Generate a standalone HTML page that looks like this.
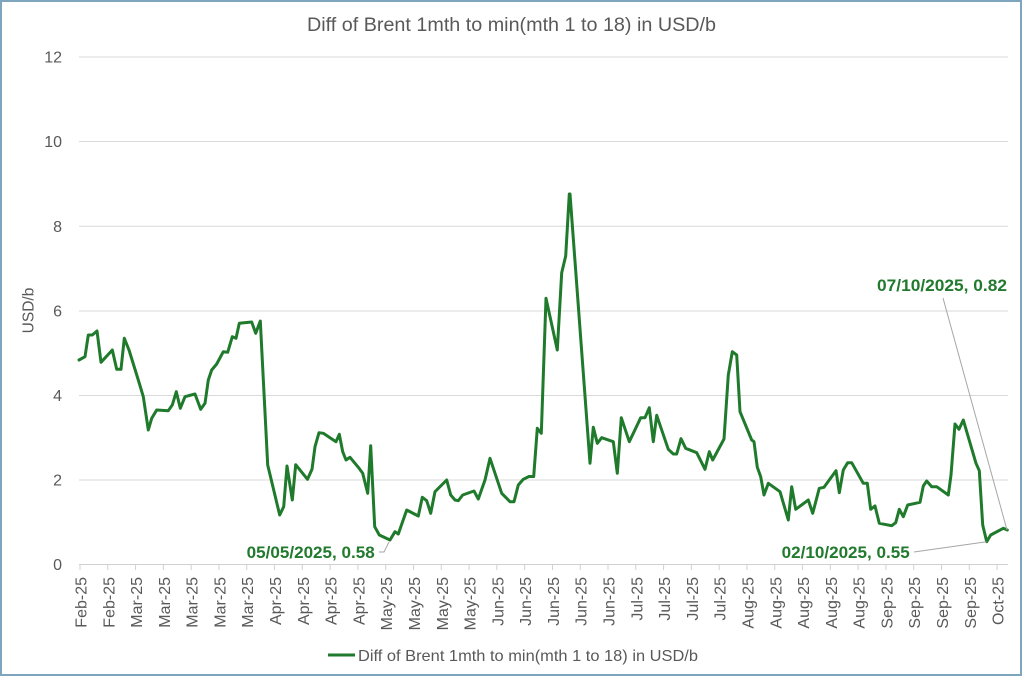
<!DOCTYPE html>
<html>
<head>
<meta charset="utf-8">
<style>
html,body{margin:0;padding:0;background:#fff;}
svg{display:block;}
text{font-family:"Liberation Sans",Arial,sans-serif;}
</style>
</head>
<body>
<svg width="1024" height="678" viewBox="0 0 1024 678" xmlns="http://www.w3.org/2000/svg">
<rect x="0" y="0" width="1024" height="678" fill="#fff"/>
<rect x="1" y="1" width="1020" height="674" fill="none" stroke="#7ea5be" stroke-width="2"/>

<!-- title -->
<text x="307" y="31" font-size="19" fill="#595959" textLength="409" lengthAdjust="spacingAndGlyphs">Diff of Brent 1mth to min(mth 1 to 18) in USD/b</text>

<!-- gridlines -->
<g stroke="#d9d9d9" stroke-width="1">
<line x1="79" y1="57" x2="1008" y2="57"/>
<line x1="79" y1="141.5" x2="1008" y2="141.5"/>
<line x1="79" y1="226.3" x2="1008" y2="226.3"/>
<line x1="79" y1="311" x2="1008" y2="311"/>
<line x1="79" y1="395.5" x2="1008" y2="395.5"/>
<line x1="79" y1="480" x2="1008" y2="480"/>
<line x1="79" y1="564.5" x2="1008" y2="564.5" stroke="#d0d0d0"/>
</g>

<!-- y labels -->
<g font-size="16" fill="#595959" text-anchor="end">
<text x="62" y="62.5">12</text>
<text x="62" y="147">10</text>
<text x="62" y="231.8">8</text>
<text x="62" y="316.5">6</text>
<text x="62" y="401">4</text>
<text x="62" y="485.5">2</text>
<text x="62" y="570">0</text>
</g>
<text transform="translate(33.5,310.5) rotate(-90)" font-size="15.5" fill="#595959" text-anchor="middle">USD/b</text>

<!-- x ticks and labels -->
<g id="xt" stroke="#d0d0d0" stroke-width="1">
</g>
<g font-size="16" fill="#595959" text-anchor="end">
<text transform="translate(86.5,577) rotate(-90)">Feb-25</text>
<text transform="translate(114.29,577) rotate(-90)">Feb-25</text>
<text transform="translate(142.08,577) rotate(-90)">Mar-25</text>
<text transform="translate(169.87,577) rotate(-90)">Mar-25</text>
<text transform="translate(197.66,577) rotate(-90)">Mar-25</text>
<text transform="translate(225.45,577) rotate(-90)">Mar-25</text>
<text transform="translate(253.24,577) rotate(-90)">Mar-25</text>
<text transform="translate(281.03,577) rotate(-90)">Apr-25</text>
<text transform="translate(308.82,577) rotate(-90)">Apr-25</text>
<text transform="translate(336.61,577) rotate(-90)">Apr-25</text>
<text transform="translate(364.4,577) rotate(-90)">Apr-25</text>
<text transform="translate(392.19,577) rotate(-90)">May-25</text>
<text transform="translate(419.98,577) rotate(-90)">May-25</text>
<text transform="translate(447.77,577) rotate(-90)">May-25</text>
<text transform="translate(475.56,577) rotate(-90)">May-25</text>
<text transform="translate(503.35,577) rotate(-90)">Jun-25</text>
<text transform="translate(531.14,577) rotate(-90)">Jun-25</text>
<text transform="translate(558.93,577) rotate(-90)">Jun-25</text>
<text transform="translate(586.72,577) rotate(-90)">Jun-25</text>
<text transform="translate(614.51,577) rotate(-90)">Jun-25</text>
<text transform="translate(642.3,577) rotate(-90)">Jul-25</text>
<text transform="translate(670.09,577) rotate(-90)">Jul-25</text>
<text transform="translate(697.88,577) rotate(-90)">Jul-25</text>
<text transform="translate(725.67,577) rotate(-90)">Jul-25</text>
<text transform="translate(753.46,577) rotate(-90)">Aug-25</text>
<text transform="translate(781.25,577) rotate(-90)">Aug-25</text>
<text transform="translate(809.04,577) rotate(-90)">Aug-25</text>
<text transform="translate(836.83,577) rotate(-90)">Aug-25</text>
<text transform="translate(864.62,577) rotate(-90)">Aug-25</text>
<text transform="translate(892.41,577) rotate(-90)">Sep-25</text>
<text transform="translate(920.2,577) rotate(-90)">Sep-25</text>
<text transform="translate(947.99,577) rotate(-90)">Sep-25</text>
<text transform="translate(975.78,577) rotate(-90)">Sep-25</text>
<text transform="translate(1003.57,577) rotate(-90)">Oct-25</text>
</g>
<g stroke="#d0d0d0" stroke-width="1">
<line x1="80" y1="564.5" x2="80" y2="570"/>
<line x1="107.79" y1="564.5" x2="107.79" y2="570"/>
<line x1="135.58" y1="564.5" x2="135.58" y2="570"/>
<line x1="163.37" y1="564.5" x2="163.37" y2="570"/>
<line x1="191.16" y1="564.5" x2="191.16" y2="570"/>
<line x1="218.95" y1="564.5" x2="218.95" y2="570"/>
<line x1="246.74" y1="564.5" x2="246.74" y2="570"/>
<line x1="274.53" y1="564.5" x2="274.53" y2="570"/>
<line x1="302.32" y1="564.5" x2="302.32" y2="570"/>
<line x1="330.11" y1="564.5" x2="330.11" y2="570"/>
<line x1="357.9" y1="564.5" x2="357.9" y2="570"/>
<line x1="385.69" y1="564.5" x2="385.69" y2="570"/>
<line x1="413.48" y1="564.5" x2="413.48" y2="570"/>
<line x1="441.27" y1="564.5" x2="441.27" y2="570"/>
<line x1="469.06" y1="564.5" x2="469.06" y2="570"/>
<line x1="496.85" y1="564.5" x2="496.85" y2="570"/>
<line x1="524.64" y1="564.5" x2="524.64" y2="570"/>
<line x1="552.43" y1="564.5" x2="552.43" y2="570"/>
<line x1="580.22" y1="564.5" x2="580.22" y2="570"/>
<line x1="608.01" y1="564.5" x2="608.01" y2="570"/>
<line x1="635.8" y1="564.5" x2="635.8" y2="570"/>
<line x1="663.59" y1="564.5" x2="663.59" y2="570"/>
<line x1="691.38" y1="564.5" x2="691.38" y2="570"/>
<line x1="719.17" y1="564.5" x2="719.17" y2="570"/>
<line x1="746.96" y1="564.5" x2="746.96" y2="570"/>
<line x1="774.75" y1="564.5" x2="774.75" y2="570"/>
<line x1="802.54" y1="564.5" x2="802.54" y2="570"/>
<line x1="830.33" y1="564.5" x2="830.33" y2="570"/>
<line x1="858.12" y1="564.5" x2="858.12" y2="570"/>
<line x1="885.91" y1="564.5" x2="885.91" y2="570"/>
<line x1="913.7" y1="564.5" x2="913.7" y2="570"/>
<line x1="941.49" y1="564.5" x2="941.49" y2="570"/>
<line x1="969.28" y1="564.5" x2="969.28" y2="570"/>
<line x1="997.07" y1="564.5" x2="997.07" y2="570"/>
</g>

<!-- data line -->
<polyline fill="none" stroke="#1f7a2c" stroke-width="3" stroke-linejoin="round" stroke-linecap="round" points="
79,360 85,356.7 88.3,335 92.3,335 97,331 101,362.3 112.3,350 116.7,369.3 121,369.3 124.3,338.3 129,350 138.3,380 143.3,396.7 148.3,430 151.7,418.3 156.7,410 168.3,410.7 172.3,405 176.3,391.7 180.3,408.3 185,396.7 195,394 200.7,409.3 205,403.3 208.3,380 211.7,370 216.7,364 223.3,351.7 227.7,352.3 232.3,336.7 236,338.3 239.3,323.3 251.7,322 255.7,333.3 260.3,321 267.7,465 279.7,515 283.7,506.7 287,466 292.3,500 295.7,464.7 307.5,479.3 312,469.3 315,446.7 319,432.7 323.3,433.3 336,441.7 339.3,434.3 342.7,451.7 346,460 350,457.3 358.3,467.3 362.7,473.3 367.7,493.3 370.7,445.7 374.7,526.7 379.3,535 390,540 395,531.7 398.3,534 406.7,510 418.3,516 422.3,497.3 426.7,500.7 430.7,513.3 435,491.7 446.7,480 450.7,495 455,500 458.3,500.7 462.7,495 474,491 478.3,499 485,480 490,458.3 501.7,493.3 510,501.7 514,501.7 518.3,485 523.3,479.3 529,476.5 533.7,476.5 537.3,428.3 541.3,433.3 546,298.3 557.3,350 561.7,272.7 565.7,256 569.3,194 570,194 590,463.3 593.3,427.3 597.3,443.3 601.7,437.7 613.3,441.7 617.3,473.3 621.3,417.7 629.3,441.7 640.7,417.7 645,417.7 649.3,407.7 653.3,441.7 656.7,415.3 668.3,449.3 673.3,454 676.7,454 681,438.7 685.7,448.3 696.7,452.7 705,469.3 709.3,451.7 712.7,460 724,439 728.3,375 732.3,351.7 736.7,355 740,411.7 751.7,440 754,441.7 757.3,467.3 760.7,476.7 764,495 768.3,483.3 780,491.7 788.3,520 791.7,486.7 795.7,509.3 808.3,500 812.7,513.3 819.3,488.3 824,487.3 836,470.7 839.3,492.7 843.3,470 847.7,462.7 851.7,462.7 863.3,483.3 867.3,483.3 870.7,509.3 875,506 879.3,523.3 891.7,525.7 895.7,522.7 899.3,509.3 903.3,516.7 907.7,505 920,502.3 923.3,486 926.7,481 931.7,486.7 936.7,486.7 948.3,495 951,475 955,424 959,429.3 963.3,420 976,463.3 979.3,470.7 982.7,525 986.7,541.7 990.7,535 1003.3,528.3 1007.3,530"/>

<!-- leader lines -->
<g stroke="#a6a6a6" stroke-width="1" fill="none">
<polyline points="379,552 384,552 389,542"/>
<line x1="914" y1="552" x2="986.5" y2="541.7"/>
<line x1="943" y1="298" x2="1007" y2="530"/>
</g>

<!-- data labels -->
<g font-size="17" font-weight="bold" fill="#217a2e">
<text x="246.7" y="558" textLength="128" lengthAdjust="spacingAndGlyphs">05/05/2025, 0.58</text>
<text x="781.7" y="558" textLength="128" lengthAdjust="spacingAndGlyphs">02/10/2025, 0.55</text>
<text x="877" y="291" textLength="130" lengthAdjust="spacingAndGlyphs">07/10/2025, 0.82</text>
</g>

<!-- legend -->
<line x1="328" y1="655" x2="355" y2="655" stroke="#1f7a2c" stroke-width="3"/>
<text x="358" y="661" font-size="16" fill="#595959" textLength="340" lengthAdjust="spacingAndGlyphs">Diff of Brent 1mth to min(mth 1 to 18) in USD/b</text>
</svg>
</body>
</html>
